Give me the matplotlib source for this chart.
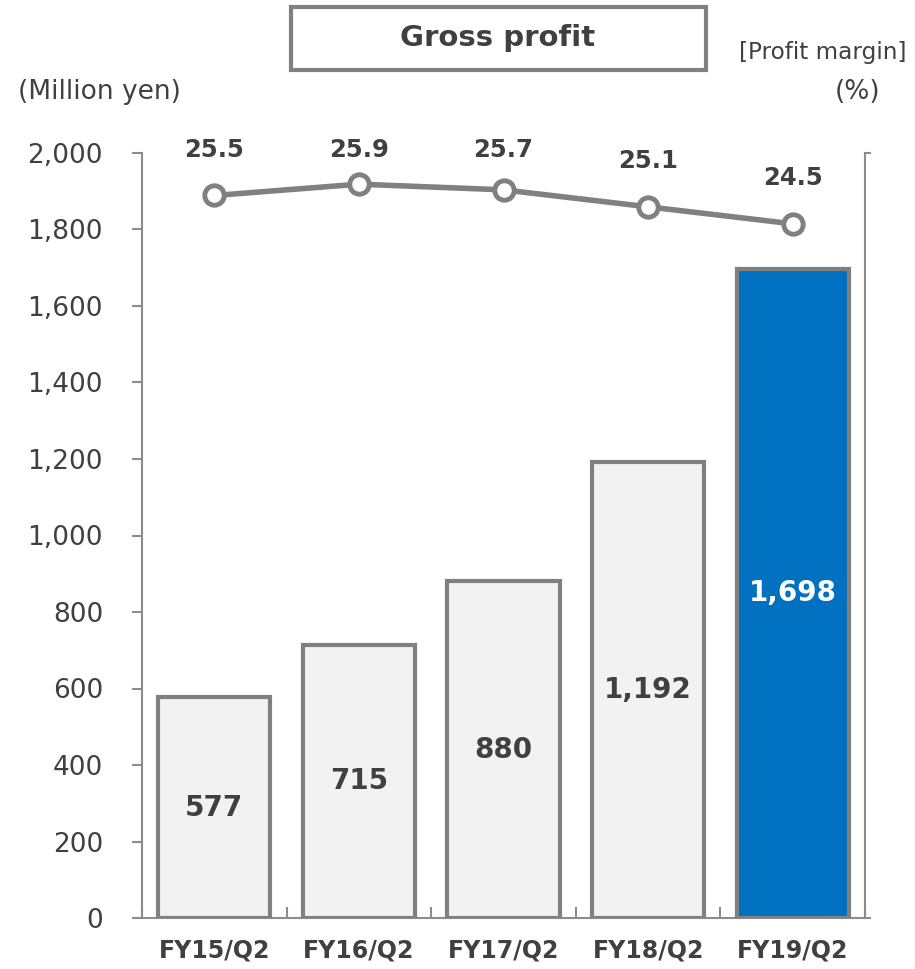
import matplotlib
matplotlib.use("Agg")
import matplotlib.pyplot as plt
from matplotlib.patches import Rectangle

categories = ["FY15/Q2", "FY16/Q2", "FY17/Q2", "FY18/Q2", "FY19/Q2"]
gross_profit = [577, 715, 880, 1192, 1698]
profit_margin = [25.5, 25.9, 25.7, 25.1, 24.5]
y_ticks = [0, 200, 400, 600, 800, 1000, 1200, 1400, 1600, 1800, 2000]

TEXT = "#404040"
GRAY = "#808080"
SPINE = "#8c8c8c"
BAR_FILL = "#f2f2f2"
HIGHLIGHT = "#0070c0"

plt.rcParams["font.family"] = ["DejaVu Sans"]

fig = plt.figure(figsize=(9.15, 9.69), dpi=100)
ax = fig.add_axes([142 / 915, 1 - 918 / 969, 723 / 915, 765 / 969])

x = list(range(len(categories)))
colors = [BAR_FILL] * (len(categories) - 1) + [HIGHLIGHT]
bars = ax.bar(x, gross_profit, width=0.775, color=colors, edgecolor=GRAY,
              linewidth=3, zorder=3)

for i, (b, v) in enumerate(zip(bars, gross_profit)):
    ax.text(b.get_x() + b.get_width() / 2, v / 2, f"{v:,}", ha="center",
            va="center", fontsize=20, fontweight="bold",
            color="white" if i == len(categories) - 1 else TEXT, zorder=5)

ax.set_xlim(-0.5, len(categories) - 0.5)
ax.set_ylim(0, 2000)
ax.set_yticks(y_ticks)
ax.set_yticklabels([f"{t:,}" for t in y_ticks], fontsize=19, color=TEXT)
ax.tick_params(axis="y", direction="out", length=7, width=1.5, color=SPINE, pad=21)

# category boundary ticks on the x axis
ax.set_xticks([i - 0.5 for i in range(len(categories) + 1)])
ax.set_xticklabels([])
ax.set_xticks(x, minor=True)
ax.set_xticklabels(categories, minor=True, fontsize=17, fontweight="bold", color=TEXT)
ax.tick_params(axis="x", which="major", direction="in", length=8, width=1.5, color=SPINE)
ax.tick_params(axis="x", which="minor", length=0, pad=15)

for s in ["top", "right"]:
    ax.spines[s].set_visible(False)
ax.spines["left"].set_color(SPINE)
ax.spines["left"].set_linewidth(1.5)
ax.spines["bottom"].set_color(SPINE)
ax.spines["bottom"].set_linewidth(1.5)

# profit margin on a secondary axis
ax2 = ax.twinx()
ax2.set_ylim(0, 27)
ax2.plot(x, profit_margin, color=GRAY, linewidth=4, marker="o", markersize=14,
         markerfacecolor="white", markeredgecolor=GRAY, markeredgewidth=3.5,
         zorder=4, clip_on=False)
label_cap = 27.1
for xi, m in zip(x, profit_margin):
    ax2.text(xi, min(m + 1.6, label_cap), f"{m:.1f}", ha="center", va="center",
             fontsize=17.5, fontweight="bold", color=TEXT)
ax2.set_yticks([0, 27])
ax2.set_yticklabels([])
ax2.tick_params(axis="y", direction="out", length=4, width=1.5, color=SPINE)
for s in ["top", "left", "bottom"]:
    ax2.spines[s].set_visible(False)
ax2.spines["right"].set_color(SPINE)
ax2.spines["right"].set_linewidth(1.5)

# title box and axis captions
fig.patches.append(Rectangle((291 / 915, 1 - 70 / 969), 415 / 915, 63 / 969,
                             transform=fig.transFigure, facecolor="white",
                             edgecolor=GRAY, linewidth=3))
fig.text(498 / 915, 1 - 38 / 969, "Gross profit", ha="center", va="center",
         fontsize=21, fontweight="bold", color=TEXT)
fig.text(823 / 915, 1 - 52 / 969, "[Profit margin]", ha="center", va="center",
         fontsize=16.7, color=TEXT)
fig.text(99 / 915, 1 - 92 / 969, "(Million yen)", ha="center", va="center",
         fontsize=19, color=TEXT)
fig.text(858 / 915, 1 - 92 / 969, "(%)", ha="center", va="center",
         fontsize=19, color=TEXT)

fig.savefig("out.png", dpi=100)
